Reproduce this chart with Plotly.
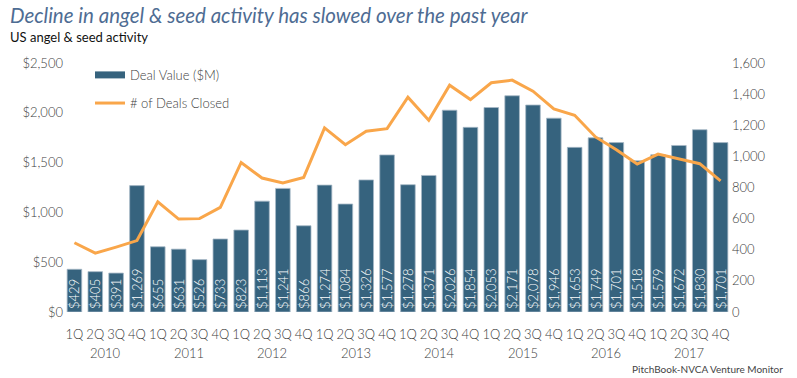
import plotly.graph_objects as go

years = ["2010", "2011", "2012", "2013", "2014", "2015", "2016", "2017"]
quarters = ["1Q", "2Q", "3Q", "4Q"]

deal_value = [429, 405, 391, 1269, 655, 631, 526, 733, 823, 1113, 1241, 866,
              1274, 1084, 1326, 1577, 1278, 1371, 2026, 1854, 2053, 2171, 2078, 1946,
              1653, 1749, 1701, 1518, 1579, 1672, 1830, 1701]
deals_closed = [445, 378, 417, 459, 708, 597, 600, 672, 961, 861, 829, 865,
                1183, 1075, 1161, 1178, 1380, 1232, 1457, 1365, 1473, 1490, 1419, 1305,
                1264, 1125, 1043, 951, 1015, 983, 953, 843]

x_idx = list(range(len(deal_value)))
x_q = [q for _ in years for q in quarters]

FONT = "Lato, 'Open Sans', sans-serif"
TICK = "#404040"
BAR = "#36637E"
LINE = "#F9A64A"

fig = go.Figure()
fig.add_trace(go.Bar(
    x=x_idx, y=deal_value, name="Deal Value ($M)", showlegend=False,
    marker=dict(color=BAR, line=dict(color="#a7b9c7", width=0.8)),
    text=[f"${v:,}" for v in deal_value],
    textposition="inside", insidetextanchor="start", textangle=-90,
    textfont=dict(color="white", size=13, family=FONT, weight=300),
    yaxis="y",
))
# legend-only entry giving the wide rectangle swatch used in the reference legend
fig.add_trace(go.Scatter(
    x=[None], y=[None], name="Deal Value ($M)", mode="lines",
    line=dict(color=BAR, width=7), legend="legend", hoverinfo="skip",
))
fig.add_trace(go.Scatter(
    x=x_idx, y=deals_closed, name="# of Deals Closed", mode="lines",
    line=dict(color=LINE, width=3),
    legend="legend2", yaxis="y2",
))

year_annotations = []
for i, yr in enumerate(years):
    idxs = x_idx[i * len(quarters):(i + 1) * len(quarters)]
    year_annotations.append(dict(
        text=yr, x=sum(idxs) / len(idxs), xref="x", y=-0.165, yref="paper",
        xanchor="center", yanchor="middle", showarrow=False,
        font=dict(size=13, color=TICK, family=FONT, weight=300)))

tickfont = dict(size=13, color=TICK, family=FONT, weight=300)

fig.update_layout(
    width=797, height=378,
    margin=dict(l=64, r=66, t=63, b=66, autoexpand=False),
    paper_bgcolor="white", plot_bgcolor="white",
    font=dict(family=FONT, color=TICK, size=13),
    bargap=0.3,
    showlegend=True,
    uniformtext=dict(minsize=13, mode="show"),
    xaxis=dict(range=[-0.5, len(x_idx) - 0.5], tickmode="array", tickvals=x_idx, ticktext=x_q,
               showgrid=False, showline=False, zeroline=False, ticks="outside", ticklen=10,
               tickcolor="rgba(0,0,0,0)", tickangle=0, tickfont=tickfont),
    yaxis=dict(range=[0, 2500], dtick=500, tickprefix="$", tickformat=",",
               showgrid=False, zeroline=False, ticks="", tickfont=tickfont),
    yaxis2=dict(range=[0, 1600], dtick=200, tickformat=",", overlaying="y", side="right",
                showgrid=False, zeroline=False, ticks="", tickfont=tickfont),
    legend=dict(x=0.039, y=0.952, xanchor="left", yanchor="middle", bgcolor="rgba(0,0,0,0)",
                font=tickfont),
    legend2=dict(x=0.039, y=0.839, xanchor="left", yanchor="middle", bgcolor="rgba(0,0,0,0)",
                 font=tickfont),
    annotations=[
        dict(text="<i>Decline in angel & seed activity has slowed over the past year</i>",
             xref="paper", yref="paper", x=-0.084, y=1.193, xanchor="left", yanchor="middle",
             showarrow=False, font=dict(size=20.5, color="#4E6C93", family=FONT)),
        dict(text="US angel & seed activity",
             xref="paper", yref="paper", x=-0.084, y=1.104, xanchor="left", yanchor="middle",
             showarrow=False, font=dict(size=13, color="#111111", family=FONT)),
        dict(text="PitchBook-NVCA Venture Monitor",
             xref="paper", yref="paper", x=1.081, y=-0.229, xanchor="right", yanchor="middle",
             showarrow=False, font=dict(size=10, color="#444444", family=FONT)),
    ] + year_annotations,
)

fig.write_html("out.html", config={"displayModeBar": False},
               post_script="document.body.style.margin='0';")
